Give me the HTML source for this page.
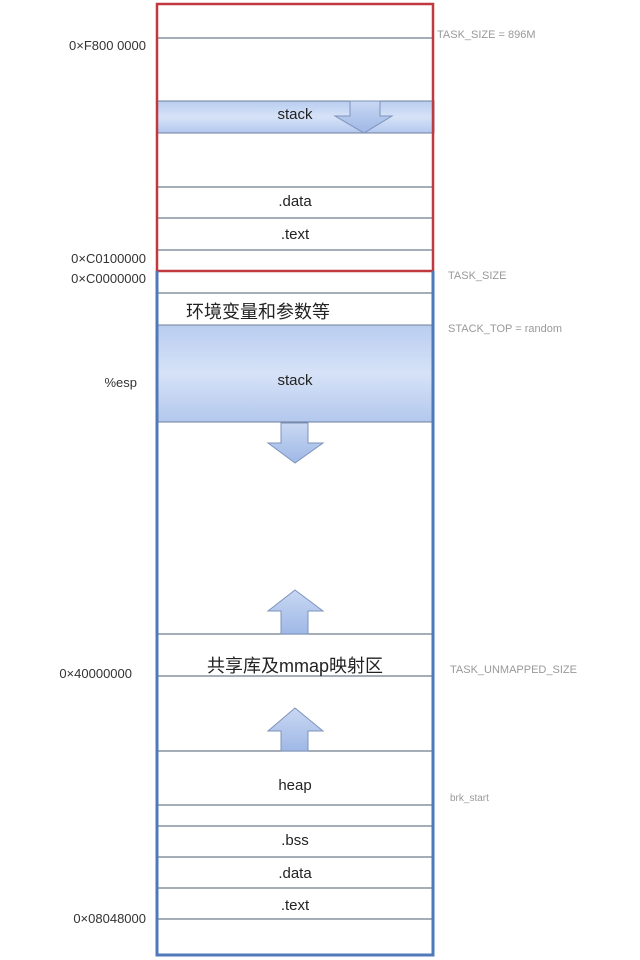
<!DOCTYPE html>
<html><head><meta charset="utf-8"><style>
body{margin:0;width:640px;height:960px;background:#fff;overflow:hidden;position:relative;font-family:"Liberation Sans","Noto Sans CJK SC",sans-serif}
.t{position:absolute;white-space:nowrap}
.c{text-align:center;width:276px;left:157px;font-size:15px;color:#222}
.l{font-size:13px;color:#333;text-align:right}
.r{font-size:11px;color:#999;left:448px}
</style></head><body>
<svg width="640" height="960" style="position:absolute;left:0;top:0">
<defs>
<linearGradient id="g" x1="0" y1="0" x2="0" y2="1"><stop offset="0" stop-color="#b9cdf0"/><stop offset="0.5" stop-color="#d6e2f7"/><stop offset="1" stop-color="#b3c8ee"/></linearGradient>
<linearGradient id="ga" x1="0" y1="0" x2="0" y2="1"><stop offset="0" stop-color="#c9d8f3"/><stop offset="1" stop-color="#9fb8e6"/></linearGradient>
</defs>
<g stroke="#6f7d8c" stroke-width="1.2">
<line x1="157" y1="38" x2="433" y2="38"/>
<line x1="157" y1="187" x2="433" y2="187"/>
<line x1="157" y1="218" x2="433" y2="218"/>
<line x1="157" y1="250" x2="433" y2="250"/>
<line x1="157" y1="293" x2="433" y2="293"/>
<line x1="157" y1="634" x2="433" y2="634"/>
<line x1="157" y1="676" x2="433" y2="676"/>
<line x1="157" y1="751" x2="433" y2="751"/>
<line x1="157" y1="805" x2="433" y2="805"/>
<line x1="157" y1="826" x2="433" y2="826"/>
<line x1="157" y1="857" x2="433" y2="857"/>
<line x1="157" y1="888" x2="433" y2="888"/>
<line x1="157" y1="919" x2="433" y2="919"/>
</g>
<rect x="157" y="101" width="277" height="32" fill="url(#g)" stroke="#6f7d9c" stroke-width="1"/>
<rect x="157" y="325" width="276" height="97" fill="url(#g)" stroke="#6f7d9c" stroke-width="1"/>
<rect x="157" y="4" width="276" height="267" fill="none" stroke="#c0393f" stroke-width="2.5"/>
<path d="M157 271 V955 H433 V271" fill="none" stroke="#4f79b8" stroke-width="3"/>
<g fill="url(#ga)" stroke="#7d93bb" stroke-width="1">
<path d="M350 101 H380 V116 H392 L364 133 L335 116 H350 Z"/>
<path d="M281 423 H308 V443 H323 L295 463 L268 443 H281 Z"/>
<path d="M295 590 L323 611 H308 V634 H281 V611 H268 Z"/>
<path d="M295 708 L323 731 H308 V751 H281 V731 H268 Z"/>
</g>
</svg>
<div class="t c" style="top:106px">stack</div>
<div class="t c" style="top:193px">.data</div>
<div class="t c" style="top:226px">.text</div>
<div class="t" style="left:186px;top:298px;font-size:18px;color:#222">环境变量和参数等</div>
<div class="t c" style="top:372px">stack</div>
<div class="t c" style="top:652px;font-size:18px">共享库及mmap映射区</div>
<div class="t c" style="top:777px">heap</div>
<div class="t c" style="top:832px">.bss</div>
<div class="t c" style="top:865px">.data</div>
<div class="t c" style="top:897px">.text</div>
<div class="t l" style="left:0;width:146px;top:38px">0×F800 0000</div>
<div class="t l" style="left:0;width:146px;top:251px">0×C0100000</div>
<div class="t l" style="left:0;width:146px;top:271px">0×C0000000</div>
<div class="t l" style="left:0;width:137px;top:375px">%esp</div>
<div class="t l" style="left:0;width:132px;top:666px">0×40000000</div>
<div class="t l" style="left:0;width:146px;top:911px">0×08048000</div>
<div class="t r" style="left:437px;top:29px">TASK_SIZE = 896M</div>
<div class="t r" style="top:270px">TASK_SIZE</div>
<div class="t r" style="top:323px">STACK_TOP = random</div>
<div class="t r" style="left:450px;top:664px">TASK_UNMAPPED_SIZE</div>
<div class="t r" style="left:450px;top:793px;font-size:10px">brk_start</div>
</body></html>
